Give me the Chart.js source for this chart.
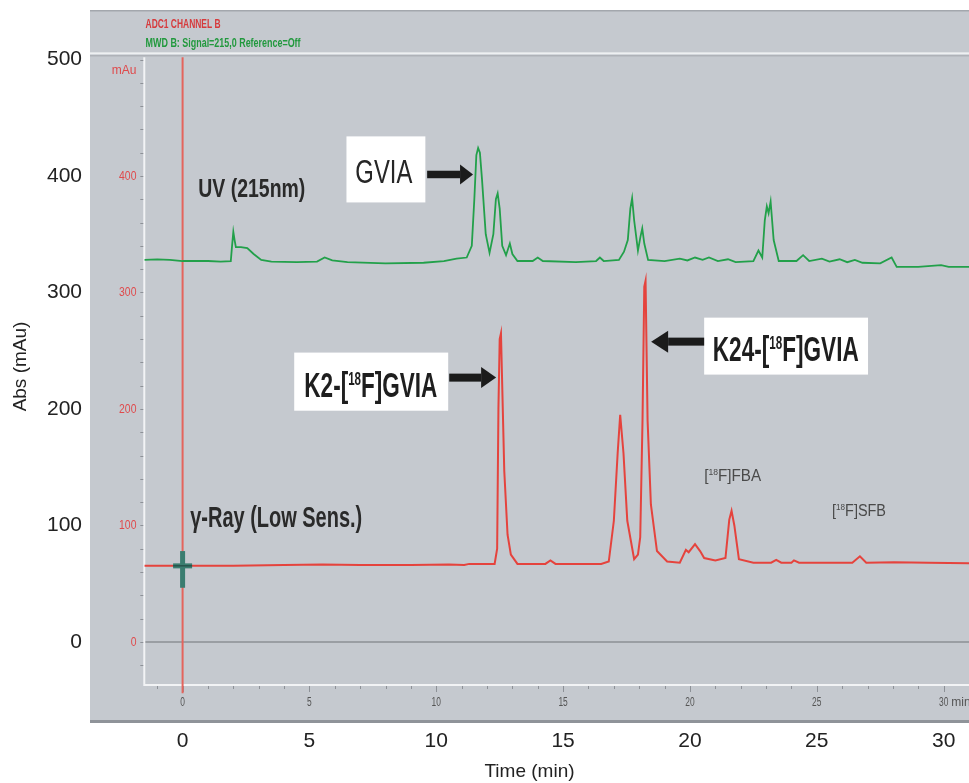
<!DOCTYPE html>
<html>
<head>
<meta charset="utf-8">
<script src="https://cdn.jsdelivr.net/npm/chart.js@4.4.1/dist/chart.umd.min.js"></script>
<style>
body { margin: 0; background: #fff; }
#wrap { width: 969px; height: 783px; position: relative; }
</style>
</head>
<body>
<div id="wrap"><canvas id="chrom"></canvas></div>
<script>
// UV (215nm) trace, green
const uvTime = [-1.5, -1.0, -0.5, 0, 0.5, 1.0, 1.5, 1.9, 1.95, 2.0, 2.05, 2.1, 2.3, 2.55, 2.8, 3.1, 3.5, 4.5, 5.3, 5.6, 5.9, 6.5, 8, 9.5,
  10.3, 10.8, 11.2, 11.4, 11.5, 11.58, 11.65, 11.72, 11.8, 11.95, 12.1, 12.25, 12.35, 12.42, 12.5, 12.6, 12.75, 12.9, 13.0, 13.2, 13.8, 14.0, 14.2,
  15.5, 16.3, 16.45, 16.6, 17.2, 17.4, 17.55, 17.65, 17.72, 17.8, 17.95, 18.05, 18.12, 18.2, 18.35, 19.0, 19.6, 19.9, 20.2, 20.5, 20.75, 21.1, 21.5,
  21.8, 22.5, 22.7, 22.85, 22.95, 23.03, 23.1, 23.18, 23.3, 23.5, 24.2, 24.46, 24.7, 25.2, 25.5, 25.9, 26.2, 26.5, 26.8, 27.5, 27.95, 28.15,
  29, 29.9, 30.2, 31];
const uvAbs = [328, 328.5, 328, 327, 327, 327, 326.5, 327, 340, 352, 345, 339, 339, 338, 333, 328, 326.5, 326, 326.5, 330, 327.5, 326, 325, 325.5,
  327, 329, 330, 340, 380, 418, 424, 420, 398, 350, 334, 350, 380, 385, 372, 340, 332, 342, 333, 327, 327, 330, 327,
  326, 327, 330, 327, 328, 335, 345, 372, 381, 362, 336, 348, 355, 342, 328, 327, 329, 327.5, 330, 328, 330, 327, 328.5,
  326, 327, 336, 330, 362, 374, 368, 378, 345, 327, 327, 332, 327, 329, 326.5, 328.5, 326, 328, 325.5, 325, 330, 322,
  322, 323.5, 322, 322];

// gamma-ray (low sens.) trace, red
const rayTime = [-1.5, 0, 2, 4, 5.5, 7, 9, 10.5, 11.1, 11.3, 12.3, 12.4, 12.45, 12.5, 12.55, 12.6, 12.68, 12.81, 12.94, 13.2,
  14.3, 14.5, 14.7, 16.5, 16.8, 17.0, 17.15, 17.25, 17.38, 17.53, 17.8, 17.95, 18.04, 18.13, 18.2, 18.25, 18.33, 18.46, 18.7, 19.1,
  19.6, 19.84, 19.95, 20.2, 20.4, 20.56, 21.0, 21.4, 21.55, 21.64, 21.75, 21.93, 22.5, 23.2, 23.4, 23.6, 24.0, 24.1, 24.3,
  26.4, 26.7, 26.95, 28.05, 29.4, 31];
const rayAbs = [65.5, 65.5, 65.5, 66, 66.5, 66, 66, 66.5, 66, 67, 67, 80, 200, 260, 265, 220, 147, 92, 75, 67,
  67, 70, 67, 67, 69, 104, 162, 195, 162, 104, 71, 75, 90, 190, 305, 310, 190, 118, 78, 69,
  68, 79, 77, 84, 78, 72, 70, 72, 105, 112.5, 100, 71, 68, 68, 70.5, 68, 68, 70, 68,
  68, 73.5, 68, 68.5, 68, 67.5];

// outer axis ticks
const xTicks = [0, 5, 10, 15, 20, 25, 30];
const yTicks = [0, 100, 200, 300, 400, 500];
// instrument screenshot axis labels
const innerXTicks = [0, 5, 10, 15, 20, 25, 30];
const innerYTicks = [0, 100, 200, 300, 400];

const NARROW = "'Liberation Sans Narrow', 'Liberation Sans', Arial, sans-serif";

// draws text pieces (text, size, bold, rise) squeezed to a given width
function drawRuns(ctx, runs, x, y, width, color) {
  ctx.save();
  ctx.fillStyle = color;
  ctx.textAlign = 'left';
  ctx.textBaseline = 'alphabetic';
  let natural = 0;
  runs.forEach(r => {
    ctx.font = (r[2] ? 'bold ' : '') + r[1] + 'px ' + NARROW;
    natural += ctx.measureText(r[0]).width;
  });
  ctx.translate(x, y);
  ctx.scale(width / natural, 1);
  let cx = 0;
  runs.forEach(r => {
    ctx.font = (r[2] ? 'bold ' : '') + r[1] + 'px ' + NARROW;
    ctx.fillText(r[0], cx, -r[3]);
    cx += ctx.measureText(r[0]).width;
  });
  ctx.restore();
}

function arrow(ctx, x0, x1, y, shaft, headLen, headHalf) {
  const dir = x1 > x0 ? 1 : -1;
  const hb = x1 - dir * headLen;
  ctx.save();
  ctx.fillStyle = '#1b1b1b';
  ctx.fillRect(Math.min(x0, hb), y - shaft / 2, Math.abs(hb - x0), shaft);
  ctx.beginPath();
  ctx.moveTo(x1, y);
  ctx.lineTo(hb, y - headHalf);
  ctx.lineTo(hb, y + headHalf);
  ctx.closePath();
  ctx.fill();
  ctx.restore();
}

// labels placed in data coordinates (time, mAu)
const boxes = [
  { t0: 6.46, t1: 9.57, v0: 434, v1: 377.3 },
  { t0: 4.40, t1: 10.47, v0: 248.4, v1: 198.5 },
  { t0: 20.56, t1: 27.02, v0: 278.4, v1: 229.5 }
];
const arrows = [
  { from: 9.64, to: 11.45, v: 401.3, shaft: 7.5, len: 13, half: 10 },
  { from: 10.51, to: 12.36, v: 226.9, shaft: 8, len: 15, half: 10.5 },
  { from: 20.56, to: 18.47, v: 257.8, shaft: 8, len: 17, half: 11 }
];
const texts = [
  { runs: [['UV (215nm)', 25, true, 0]], t: 0.62, v: 382, w: 107, color: '#2a2a2a' },
  { runs: [['\u03b3-Ray (Low Sens.)', 30, true, 0]], t: 0.30, v: 98.8, w: 172, color: '#2a2a2a' },
  { runs: [['GVIA', 34, false, 0]], t: 6.81, v: 393.9, w: 57, color: '#262626' },
  { runs: [['K2-[', 35, true, 0], ['18', 18, true, 12], ['F]GVIA', 35, true, 0]], t: 4.80, v: 210, w: 133, color: '#1e1e1e' },
  { runs: [['K24-[', 35, true, 0], ['18', 18, true, 12], ['F]GVIA', 35, true, 0]], t: 20.9, v: 241.0, w: 146, color: '#1e1e1e' },
  { runs: [['[', 16, false, 0], ['18', 9, false, 6], ['F]FBA', 16, false, 0]], t: 20.56, v: 138.3, w: 57, color: '#4a4a4a' },
  { runs: [['[', 16, false, 0], ['18', 9, false, 6], ['F]SFB', 16, false, 0]], t: 25.6, v: 108.3, w: 54, color: '#4a4a4a' }
];

const screenPlugin = {
  id: 'screen',
  beforeDraw(chart) {
    const { ctx, chartArea: a } = chart;
    ctx.save();
    ctx.fillStyle = '#c5c9cf';
    ctx.fillRect(a.left, a.top, a.right - a.left, a.bottom - a.top);
    ctx.fillStyle = '#a3a7ad';
    ctx.fillRect(a.left, a.top, a.right - a.left, 1.5);
    ctx.fillStyle = '#8f9399';
    ctx.fillRect(a.left, a.bottom - 3, a.right - a.left, 3);
    ctx.restore();
  },
  beforeDatasetsDraw(chart) {
    const { ctx, chartArea: a, scales: { x, y } } = chart;
    const ax = x.getPixelForValue(-1.51);
    const top = y.getPixelForValue(502);
    const bot = y.getPixelForValue(-37);
    ctx.save();
    // header separator
    const sep = y.getPixelForValue(505.3);
    ctx.fillStyle = '#eef0f2';
    ctx.fillRect(a.left, sep - 1, a.right - a.left, 2);
    ctx.fillStyle = '#a4a8ae';
    ctx.fillRect(a.left, sep + 2, a.right - a.left, 1);
    // header texts
    drawRuns(ctx, [['ADC1 CHANNEL B', 12, true, 0]], x.getPixelForValue(-1.46), y.getPixelForValue(527), 75, '#d63a3c');
    drawRuns(ctx, [['MWD B: Signal=215,0 Reference=Off', 12, true, 0]], x.getPixelForValue(-1.46), y.getPixelForValue(511), 155, '#22993e');
    // zero line
    ctx.strokeStyle = '#8b8f95';
    ctx.lineWidth = 1.5;
    ctx.beginPath();
    ctx.moveTo(ax, y.getPixelForValue(0));
    ctx.lineTo(a.right, y.getPixelForValue(0));
    ctx.stroke();
    // inner frame
    ctx.strokeStyle = '#f2f3f5';
    ctx.lineWidth = 2;
    ctx.beginPath();
    ctx.moveTo(ax, top);
    ctx.lineTo(ax, bot);
    ctx.lineTo(a.right, bot);
    ctx.stroke();
    ctx.strokeStyle = '#8d9197';
    ctx.lineWidth = 1;
    for (let v = -20; v <= 500; v += 20) {
      const py = Math.round(y.getPixelForValue(v)) + 0.5;
      ctx.beginPath();
      ctx.moveTo(ax - 4, py);
      ctx.lineTo(ax - 1, py);
      ctx.stroke();
    }
    for (let t = -1; t <= 31; t += 1) {
      const px = Math.round(x.getPixelForValue(t)) + 0.5;
      ctx.beginPath();
      ctx.moveTo(px, bot + 1);
      ctx.lineTo(px, bot + (t % 5 === 0 ? 7 : 4));
      ctx.stroke();
    }
    // inner labels
    ctx.textBaseline = 'middle';
    innerYTicks.forEach(v => {
      ctx.save();
      ctx.font = '13px ' + NARROW;
      ctx.fillStyle = '#df4a4c';
      ctx.textAlign = 'right';
      ctx.translate(x.getPixelForValue(-1.82), y.getPixelForValue(v));
      ctx.scale(0.8, 1);
      ctx.fillText(String(v), 0, 0);
      ctx.restore();
    });
    ctx.save();
    ctx.font = '12px ' + NARROW;
    ctx.fillStyle = '#df4a4c';
    ctx.textAlign = 'right';
    ctx.fillText('mAu', x.getPixelForValue(-1.82), y.getPixelForValue(490));
    ctx.restore();
    innerXTicks.forEach(t => {
      ctx.save();
      ctx.font = '12px ' + NARROW;
      ctx.fillStyle = '#555';
      ctx.textAlign = 'center';
      ctx.translate(x.getPixelForValue(t), y.getPixelForValue(-52.4));
      ctx.scale(0.7, 1);
      ctx.fillText(String(t), 0, 0);
      ctx.restore();
    });
    ctx.font = '12px ' + NARROW;
    ctx.fillStyle = '#555';
    ctx.textAlign = 'left';
    ctx.fillText('min', x.getPixelForValue(30.3), y.getPixelForValue(-52.4));
    // injection marker
    ctx.strokeStyle = '#e4645c';
    ctx.lineWidth = 2;
    ctx.beginPath();
    ctx.moveTo(x.getPixelForValue(0), top);
    ctx.lineTo(x.getPixelForValue(0), y.getPixelForValue(-44));
    ctx.stroke();
    ctx.restore();
  },
  afterDatasetsDraw(chart) {
    const { ctx, scales: { x, y } } = chart;
    ctx.save();
    // cursor cross
    const cx = x.getPixelForValue(0);
    const cy = y.getPixelForValue(65.3);
    ctx.fillStyle = '#3a7d70';
    ctx.fillRect(cx - 2.5, y.getPixelForValue(78), 5, y.getPixelForValue(46.5) - y.getPixelForValue(78));
    ctx.fillRect(cx - 9.5, cy - 2.5, 19, 5);
    ctx.fillStyle = '#1f3f3a';
    ctx.fillRect(cx - 9.5, cy - 0.5, 19, 1);
    boxes.forEach(b => {
      ctx.fillStyle = '#ffffff';
      const x0 = x.getPixelForValue(b.t0), x1 = x.getPixelForValue(b.t1);
      const y0 = y.getPixelForValue(b.v0), y1 = y.getPixelForValue(b.v1);
      ctx.fillRect(x0, y0, x1 - x0, y1 - y0);
    });
    arrows.forEach(r => arrow(ctx, x.getPixelForValue(r.from), x.getPixelForValue(r.to), y.getPixelForValue(r.v), r.shaft, r.len, r.half));
    texts.forEach(s => drawRuns(ctx, s.runs, x.getPixelForValue(s.t), y.getPixelForValue(s.v), s.w, s.color));
    ctx.restore();
  }
};

new Chart(document.getElementById('chrom'), {
  type: 'line',
  data: {
    datasets: [{
      label: 'UV (215nm)',
      data: uvTime.map((t, i) => ({ x: t, y: uvAbs[i] })),
      borderColor: '#22a04a',
      borderWidth: 1.8,
      pointRadius: 0,
      tension: 0
    }, {
      label: 'gamma-ray',
      data: rayTime.map((t, i) => ({ x: t, y: rayAbs[i] })),
      borderColor: '#e5433d',
      borderWidth: 2,
      pointRadius: 0,
      tension: 0
    }]
  },
  options: {
    responsive: true,
    maintainAspectRatio: false,
    animation: false,
    layout: { padding: { top: 10, right: 0, left: 0, bottom: 0 } },
    plugins: { legend: { display: false }, tooltip: { enabled: false } },
    scales: {
      x: {
        type: 'linear',
        min: -3.65,
        max: 31.0,
        afterBuildTicks: s => { s.ticks = xTicks.map(v => ({ value: v })); },
        afterFit: s => { s.height = 60; s.paddingLeft = 0; s.paddingRight = 0; },
        grid: { display: false, drawTicks: false },
        border: { display: false },
        ticks: { autoSkip: false, maxRotation: 0, padding: 6, color: '#222', font: { family: 'Liberation Sans, Arial', size: 21 } },
        title: { display: true, text: 'Time (min)', color: '#222', padding: { top: 0, bottom: 0 }, font: { family: 'Liberation Sans, Arial', size: 19 } }
      },
      y: {
        min: -69.6,
        max: 542.5,
        afterBuildTicks: s => { s.ticks = yTicks.map(v => ({ value: v })); },
        afterFit: s => { s.width = 90; s.paddingTop = 0; s.paddingBottom = 0; },
        grid: { display: false, drawTicks: false },
        border: { display: false },
        ticks: { padding: 8, color: '#222', font: { family: 'Liberation Sans, Arial', size: 21 } },
        title: { display: true, text: 'Abs (mAu)', color: '#222', padding: { top: 9, bottom: 0 }, font: { family: 'Liberation Sans, Arial', size: 19 } }
      }
    }
  },
  plugins: [screenPlugin]
});
</script>
</body>
</html>
